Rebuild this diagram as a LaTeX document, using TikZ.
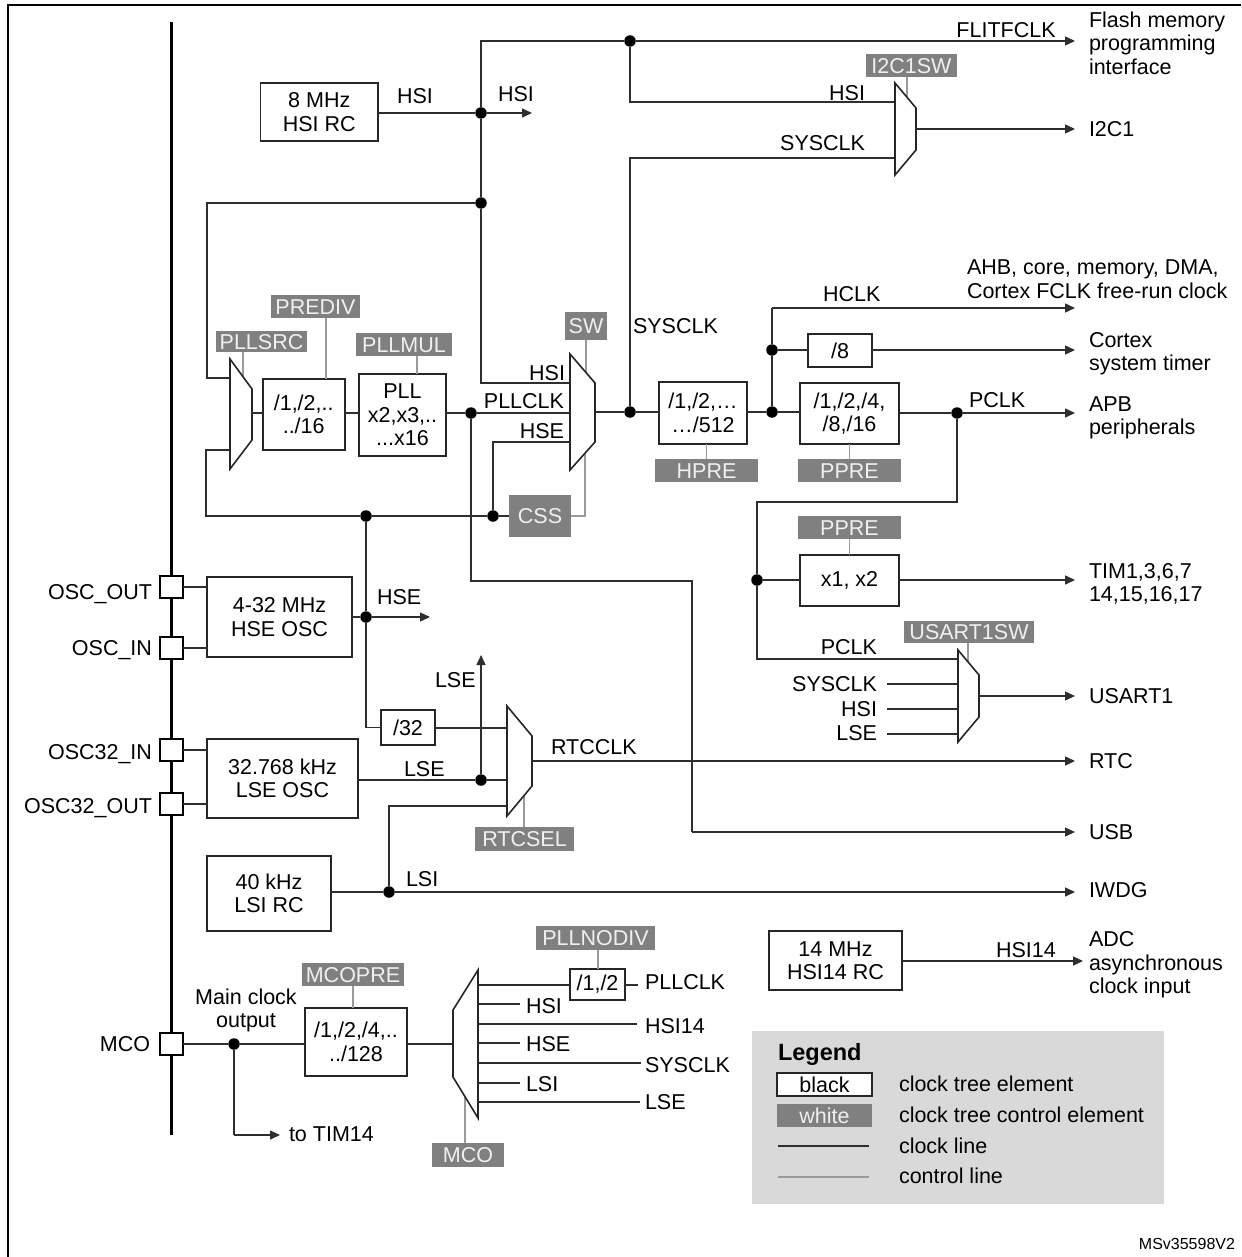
\documentclass[tikz,border=0pt]{standalone}
\usepackage{fontspec}
\setmainfont{Liberation Sans}
\usetikzlibrary{arrows.meta}
\definecolor{clkcol}{HTML}{2E2E2E}
\definecolor{ctlfill}{HTML}{808080}
\definecolor{ctlline}{HTML}{9A9A9A}
\definecolor{ctltext}{HTML}{F0F0F0}
\definecolor{legfill}{HTML}{D9D9D9}
\tikzset{
  every node/.style={font=\fontsize{21.5}{23.5}\selectfont,inner sep=0pt,outer sep=0pt},
  clk/.style={draw=clkcol,line width=1.4pt},
  ctrl/.style={draw=ctlline,line width=1.2pt},
  arr/.style={clk,-{Triangle[length=10pt,width=9pt]}},
  box/.style={draw=black!85,line width=1.6pt,fill=white,align=center},
  pad/.style={draw=black,line width=2pt,fill=white,minimum width=23pt,minimum height=22pt},
  ctlbox/.style={fill=ctlfill,text=ctltext,text height=15.4pt,text depth=0pt},
  lab/.style={text height=15.4pt,text depth=0pt},
  mlab/.style={align=left,anchor=west},
  dot/.style={circle,fill=black,minimum size=11.5pt},
  mux/.style={draw=black!85,line width=1.6pt,fill=white,line join=miter}
}
\begin{document}
\begin{tikzpicture}[x=1pt,y=-1pt]
\useasboundingbox (0,0) rectangle (1241,1257);
% frame
\coordinate (frameTR) at (1241,5);
\coordinate (frameTL) at (8,5);
\coordinate (frameBL) at (8,1257);
\draw[black,line width=2.2pt] (frameTR) -- (frameTL) -- (frameBL);
% spine
\coordinate (spineT) at (171,22);
\coordinate (spineB) at (171,1135);
\draw[black,line width=3pt] (spineT) -- (spineB);
% pads
\node[pad] (oscout) at (171,587) {};
\node[pad] (oscin) at (171,648) {};
\node[pad] (osc32in) at (171,750) {};
\node[pad] (osc32out) at (171,804) {};
\node[pad] (mcopad) at (171.5,1044) {};
% boxes
\node[box,minimum width=117.5pt,minimum height=58pt] (hsirc) at (319.25,112) {8 MHz\\HSI RC};
\node[box,minimum width=145pt,minimum height=80pt] (hse) at (279.5,617) {4-32 MHz\\HSE OSC};
\node[box,minimum width=151pt,minimum height=79pt] (lse) at (282.5,778.5) {32.768 kHz\\LSE OSC};
\node[box,minimum width=124pt,minimum height=75pt] (lsi) at (269,893.5) {40 kHz\\LSI RC};
\node[box,minimum width=133pt,minimum height=59pt] (hsi14) at (835.5,960.5) {14 MHz\\HSI14 RC};
\node[box,minimum width=82pt,minimum height=71pt] (prediv) at (303.7,414.5) {/1,/2,..\\../16};
\node[box,minimum width=87pt,minimum height=82pt] (pll) at (402.5,415) {PLL\\x2,x3,..\\...x16};
\node[box,minimum width=88pt,minimum height=62pt] (hpre) at (703,413) {/1,/2,…\\…/512};
\node[box,minimum width=99pt,minimum height=61pt] (ppre) at (849.5,413.5) {/1,/2,/4,\\/8,/16};
\node[box,minimum width=64pt,minimum height=33pt] (d8) at (840,350.5) {/8};
\node[box,minimum width=99pt,minimum height=51pt] (x12) at (849.5,580.5) {x1, x2};
\node[box,minimum width=54pt,minimum height=35pt] (d32) at (408,727.5) {/32};
\node[box,minimum width=102pt,minimum height=68pt] (mcopre) at (356,1042) {/1,/2,/4,..\\../128};
\node[box,minimum width=55pt,minimum height=31pt] (nodiv) at (597.5,984.5) {/1,/2};
% control labels
\node[ctlbox,minimum width=91pt,minimum height=21pt] (cPllsrc) at (261.5,341.5) {PLLSRC};
\node[ctlbox,minimum width=89pt,minimum height=23pt] (cPrediv) at (315.5,306.5) {PREDIV};
\node[ctlbox,minimum width=96pt,minimum height=23pt] (cPllmul) at (404,344.5) {PLLMUL};
\node[ctlbox,minimum width=42pt,minimum height=28pt] (cSw) at (586,326) {SW};
\node[ctlbox,minimum width=62pt,minimum height=42pt] (css) at (540,516) {CSS};
\node[ctlbox,minimum width=91pt,minimum height=23pt] (cI2c) at (911.5,65.5) {I2C1SW};
\node[ctlbox,minimum width=103pt,minimum height=23pt] (cHpre) at (706.5,470.5) {HPRE};
\node[ctlbox,minimum width=103pt,minimum height=23pt] (cPpre) at (849.5,470.5) {PPRE};
\node[ctlbox,minimum width=103pt,minimum height=23pt] (cPpreB) at (849.5,527.5) {PPRE};
\node[ctlbox,minimum width=130pt,minimum height=22pt] (cUsart) at (969,632) {USART1SW};
\node[ctlbox,minimum width=99pt,minimum height=24pt] (cRtc) at (524.5,839) {RTCSEL};
\node[ctlbox,minimum width=119pt,minimum height=24pt] (cNodiv) at (595.5,938) {PLLNODIV};
\node[ctlbox,minimum width=102pt,minimum height=23pt] (cMcopre) at (353,974.5) {MCOPRE};
\node[ctlbox,minimum width=72pt,minimum height=24pt] (cMco) at (468,1155) {MCO};
% junction dots
\node[dot] (jA) at (481,113) {};
\node[dot] (jB) at (630,41) {};
\node[dot] (jC) at (481,203) {};
\node[dot] (jD) at (366,516) {};
\node[dot] (jE) at (493,516) {};
\node[dot] (jF) at (471,413) {};
\node[dot] (jG) at (630,412) {};
\node[dot] (jH) at (772,412) {};
\node[dot] (jI) at (772,350) {};
\node[dot] (jJ) at (957,413) {};
\node[dot] (jK) at (757,580) {};
\node[dot] (jL) at (366,617) {};
\node[dot] (jM) at (481,780) {};
\node[dot] (jN) at (389,892) {};
\node[dot] (jO) at (234,1044) {};
% mux ports
\coordinate (srcA) at (230,378);
\coordinate (srcB) at (230,450);
\coordinate (srcO) at (252,413);
\coordinate (swA) at (570,383);
\coordinate (swB) at (570,413);
\coordinate (swC) at (570,442);
\coordinate (swO) at (595,412);
\coordinate (i2cA) at (895,102);
\coordinate (i2cB) at (895,158);
\coordinate (i2cO) at (916,129);
\coordinate (usA) at (958,659);
\coordinate (usB) at (958,684);
\coordinate (usC) at (958,709);
\coordinate (usD) at (958,734);
\coordinate (usO) at (979,696);
\coordinate (rtcA) at (507,728);
\coordinate (rtcB) at (507,780);
\coordinate (rtcC) at (507,806);
\coordinate (rtcO) at (532,761);
\coordinate (mcoIn) at (453,1044);
% free ends
\coordinate (eFlit) at (1075,41);
\coordinate (eHsi) at (532,113);
\coordinate (eI2c) at (1075,129);
\coordinate (eHclk) at (1075,308);
\coordinate (eCortex) at (1075,350);
\coordinate (eApb) at (1075,413);
\coordinate (eTim) at (1075,580);
\coordinate (eUsart) at (1075,696);
\coordinate (eRtc) at (1075,761);
\coordinate (eUsb) at (1075,832);
\coordinate (eIwdg) at (1075,892);
\coordinate (eAdc) at (1083,961);
\coordinate (eHse) at (430,617);
\coordinate (eLse) at (481,655);
\coordinate (eTim14) at (280,1135);
% clock lines
\draw[clk] (hsirc.east |- jA) -- (jA);
\draw[arr] (jA) -- (eHsi);
\draw[clk] (jA) -- (481,41) -- (jB);
\draw[arr] (jB) -- (eFlit);
\draw[clk] (jB) -- (630,102) -- (i2cA);
\draw[clk] (jG) -- (630,158) -- (i2cB);
\draw[arr] (i2cO) -- (eI2c);
\draw[clk] (jA) -- (jC);
\draw[clk] (jC) -- (481,383) -- (swA);
\draw[clk] (jC) -- (207,203) -- (207,378) -- (srcA);
\draw[clk] (srcB) -- (206,450) -- (206,516) -- (jD);
\draw[clk] (jD) -- (jE);
\draw[clk] (jE) -- (css.west |- jE);
\draw[clk] (jE) -- (493,442) -- (swC);
\draw[clk] (srcO) -- (prediv.west |- srcO);
\draw[clk] (prediv.east |- jF) -- (pll.west |- jF);
\draw[clk] (pll.east |- jF) -- (jF);
\draw[clk] (jF) -- (swB);
\draw[clk] (jF) -- (471,581) -- (692,581) -- (692,832);
\draw[arr] (692,832) -- (eUsb);
\draw[clk] (swO) -- (jG);
\draw[clk] (jG) -- (hpre.west |- jG);
\draw[clk] (hpre.east |- jH) -- (jH);
\draw[clk] (jH) -- (ppre.west |- jH);
\draw[clk] (jH) -- (jI);
\draw[clk] (jI) -- (d8.west |- jI);
\draw[arr] (d8.east |- jI) -- (eCortex);
\draw[clk] (jI) -- (772,308);
\draw[arr] (772,308) -- (eHclk);
\draw[clk] (ppre.east |- jJ) -- (jJ);
\draw[arr] (jJ) -- (eApb);
\draw[clk] (jJ) -- (957,502) -- (757,502) -- (jK);
\draw[clk] (jK) -- (x12.west |- jK);
\draw[arr] (x12.east |- jK) -- (eTim);
\draw[clk] (jK) -- (757,659) -- (usA);
\coordinate (usBs) at (887,684);
\coordinate (usCs) at (887,709);
\coordinate (usDs) at (887,734);
\draw[clk] (usBs) -- (usB);
\draw[clk] (usCs) -- (usC);
\draw[clk] (usDs) -- (usD);
\draw[arr] (usO) -- (eUsart);
\draw[clk] (oscout.east) -- (oscout.east -| hse.west);
\draw[clk] (oscin.east) -- (oscin.east -| hse.west);
\draw[clk] (osc32in.east) -- (osc32in.east -| lse.west);
\draw[clk] (osc32out.east) -- (osc32out.east -| lse.west);
\draw[clk] (jD) -- (jL);
\draw[clk] (hse.east |- jL) -- (jL);
\draw[arr] (jL) -- (eHse);
\draw[clk] (jL) -- (366,727.5) -- (d32.west);
\draw[clk] (d32.east |- rtcA) -- (rtcA);
\draw[clk] (lse.east |- jM) -- (jM);
\draw[clk] (jM) -- (rtcB);
\draw[arr] (jM) -- (eLse);
\draw[arr] (rtcO) -- (eRtc);
\draw[clk] (lsi.east |- jN) -- (jN);
\draw[arr] (jN) -- (eIwdg);
\draw[clk] (jN) -- (389,806) -- (rtcC);
\draw[arr] (hsi14.east |- eAdc) -- (eAdc);
\draw[clk] (mcopad.east) -- (jO);
\draw[clk] (jO) -- (mcopre.west |- jO);
\draw[clk] (jO) -- (234,1135);
\draw[arr] (234,1135) -- (eTim14);
\draw[clk] (mcopre.east |- mcoIn) -- (mcoIn);
% MCO mux outputs
\coordinate (mA) at (478,985);
\coordinate (mB) at (478,1004);
\coordinate (mC) at (478,1024);
\coordinate (mD) at (478,1043);
\coordinate (mE) at (478,1063);
\coordinate (mF) at (478,1083);
\coordinate (mG) at (478,1102);
\draw[clk] (mA) -- (nodiv.west |- mA);
\coordinate (mAe) at (638,985);
\draw[clk] (nodiv.east |- mA) -- (mAe);
\coordinate (mBe) at (520,1004);
\coordinate (mCe) at (637,1024);
\coordinate (mDe) at (520,1043);
\coordinate (mEe) at (641,1063);
\coordinate (mFe) at (520,1083);
\coordinate (mGe) at (640,1102);
\draw[clk] (mB) -- (mBe);
\draw[clk] (mC) -- (mCe);
\draw[clk] (mD) -- (mDe);
\draw[clk] (mE) -- (mEe);
\draw[clk] (mF) -- (mFe);
\draw[clk] (mG) -- (mGe);
% control lines
\coordinate (xPrediv) at (326,0);
\coordinate (xPllmul) at (417,0);
\coordinate (xI2c) at (907,0);
\coordinate (xUsart) at (968,0);
\coordinate (xNodiv) at (598,0);
\coordinate (xPllsrc) at (243,0);
\coordinate (xRtc) at (524,0);
\coordinate (xMco) at (465,0);
\coordinate (muxSrcEdge) at (243,377);
\coordinate (muxSwEdge) at (586,372);
\coordinate (muxSwLow) at (585,453);
\coordinate (muxSwCorner) at (585,516);
\coordinate (muxI2cEdge) at (907,97);
\coordinate (muxUsartEdge) at (968,663);
\coordinate (muxRtcEdge) at (524,795);
\coordinate (muxMcoEdge) at (465,1097);
\draw[ctrl] (cPrediv.south -| xPrediv) -- (prediv.north -| xPrediv);
\draw[ctrl] (cPllsrc.south -| xPllsrc) -- (muxSrcEdge);
\draw[ctrl] (cPllmul.south -| xPllmul) -- (pll.north -| xPllmul);
\draw[ctrl] (cSw.south) -- (muxSwEdge);
\draw[ctrl] (muxSwLow) -- (muxSwCorner) -- (css.east);
\draw[ctrl] (cI2c.south -| xI2c) -- (muxI2cEdge);
\draw[ctrl] (hpre.south -| cHpre.north) -- (cHpre.north);
\draw[ctrl] (ppre.south) -- (cPpre.north);
\draw[ctrl] (cPpreB.south) -- (x12.north);
\draw[ctrl] (cUsart.south -| xUsart) -- (muxUsartEdge);
\draw[ctrl] (muxRtcEdge) -- (cRtc.north -| xRtc);
\draw[ctrl] (cNodiv.south -| xNodiv) -- (nodiv.north -| xNodiv);
\draw[ctrl] (cMcopre.south) -- (mcopre.north -| cMcopre.south);
\draw[ctrl] (muxMcoEdge) -- (cMco.north -| xMco);
% muxes
\draw[mux] (230,359) -- (252,389) -- (252,440) -- (230,469) -- cycle;
\draw[mux] (570,354) -- (595,383) -- (595,442) -- (570,470) -- cycle;
\draw[mux] (895,83) -- (916,108) -- (916,150) -- (895,175) -- cycle;
\draw[mux] (958,650) -- (979,675) -- (979,717) -- (958,742) -- cycle;
\draw[mux] (507,706) -- (532,736) -- (532,786) -- (507,816) -- cycle;
\draw[mux] (478,970) -- (453,1010) -- (453,1077) -- (478,1118) -- cycle;
% text labels
\node[lab] (t1) at (415,96) {HSI};
\node[lab] (t2) at (516,94) {HSI};
\node[lab] (t3) at (1006,30) {FLITFCLK};
\node[lab,anchor=east] (t4) at (865,93) {HSI};
\node[lab,anchor=east] (t5) at (865,143) {SYSCLK};
\node[lab,anchor=west] (t6) at (633,326) {SYSCLK};
\node[lab,anchor=west] (t7) at (823,294) {HCLK};
\node[lab,anchor=west] (t8) at (969,400) {PCLK};
\node[lab,anchor=west] (t9) at (377,597) {HSE};
\node[lab,anchor=west] (t10) at (435,680) {LSE};
\node[lab,anchor=west] (t11) at (404,769) {LSE};
\node[lab,anchor=west] (t12) at (551,747) {RTCCLK};
\node[lab,anchor=west] (t13) at (406,879) {LSI};
\node[lab,anchor=west] (t14) at (996,950) {HSI14};
\node[lab,anchor=east] (t15) at (565,373) {HSI};
\node[lab,anchor=east] (t16) at (564,401) {PLLCLK};
\node[lab,anchor=east] (t17) at (564,431) {HSE};
\node[lab,anchor=east] (t18) at (877,647) {PCLK};
\node[lab,anchor=east] (t19) at (877,684) {SYSCLK};
\node[lab,anchor=east] (t20) at (877,709) {HSI};
\node[lab,anchor=east] (t21) at (877,733) {LSE};
\node[lab,anchor=east] (t22) at (152,592) {OSC\_OUT};
\node[lab,anchor=east] (t23) at (152,648) {OSC\_IN};
\node[lab,anchor=east] (t24) at (152,752) {OSC32\_IN};
\node[lab,anchor=east] (t25) at (152,806) {OSC32\_OUT};
\node[lab,anchor=east] (t26) at (150,1044) {MCO};
\node[align=center] (t27) at (246,1010.5) {Main clock\\output};
\node[lab,anchor=west] (t28) at (289,1134) {to TIM14};
\node[lab,anchor=west] (t29) at (526,1006) {HSI};
\node[lab,anchor=west] (t30) at (526,1044) {HSE};
\node[lab,anchor=west] (t31) at (526,1084) {LSI};
\node[lab,anchor=west] (t32) at (645,982) {PLLCLK};
\node[lab,anchor=west] (t33) at (645,1026) {HSI14};
\node[lab,anchor=west] (t34) at (645,1065) {SYSCLK};
\node[lab,anchor=west] (t35) at (645,1102) {LSE};
\node[mlab] (r1) at (1089,43) {Flash memory\\programming\\interface};
\node[lab,anchor=west] (r2) at (1089,129) {I2C1};
\node[mlab] (r3) at (967,279) {AHB, core, memory, DMA,\\Cortex FCLK free-run clock};
\node[mlab] (r4) at (1089,353.5) {Cortex\\system timer};
\node[mlab] (r5) at (1089,418) {APB\\peripherals};
\node[mlab] (r6) at (1089,584) {TIM1,3,6,7\\14,15,16,17};
\node[lab,anchor=west] (r7) at (1089,696) {USART1};
\node[lab,anchor=west] (r8) at (1089,761) {RTC};
\node[lab,anchor=west] (r9) at (1089,832) {USB};
\node[lab,anchor=west] (r10) at (1089,890) {IWDG};
\node[mlab] (r11) at (1089,965) {ADC\\asynchronous\\clock input};
% legend
\node[fill=legfill,minimum width=412pt,minimum height=173pt] (legend) at (958,1117.5) {};
\node[lab,anchor=west,font=\fontsize{23.5}{26}\selectfont\bfseries] (legT) at (778,1053) {Legend};
\node[box,minimum width=95pt,minimum height=23pt,text height=15.4pt,text depth=0pt] (legB) at (824.5,1084.5) {black};
\node[ctlbox,minimum width=95pt,minimum height=23pt] (legW) at (824.5,1115.5) {white};
\coordinate (legC1) at (778,1146);
\coordinate (legC2) at (869,1146);
\coordinate (legD1) at (778,1177);
\coordinate (legD2) at (869,1177);
\draw[clkcol,line width=1.2pt] (legC1) -- (legC2);
\draw[ctlline,line width=1.2pt] (legD1) -- (legD2);
\node[lab,anchor=west] (legA) at (899,1084) {clock tree element};
\node[lab,anchor=west] (legE) at (899,1115) {clock tree control element};
\node[lab,anchor=west] (legF) at (899,1146) {clock line};
\node[lab,anchor=west] (legG) at (899,1176) {control line};
\node[anchor=east,font=\fontsize{16}{18}\selectfont] (ms) at (1235,1244) {MSv35598V2};
\end{tikzpicture}
\end{document}
